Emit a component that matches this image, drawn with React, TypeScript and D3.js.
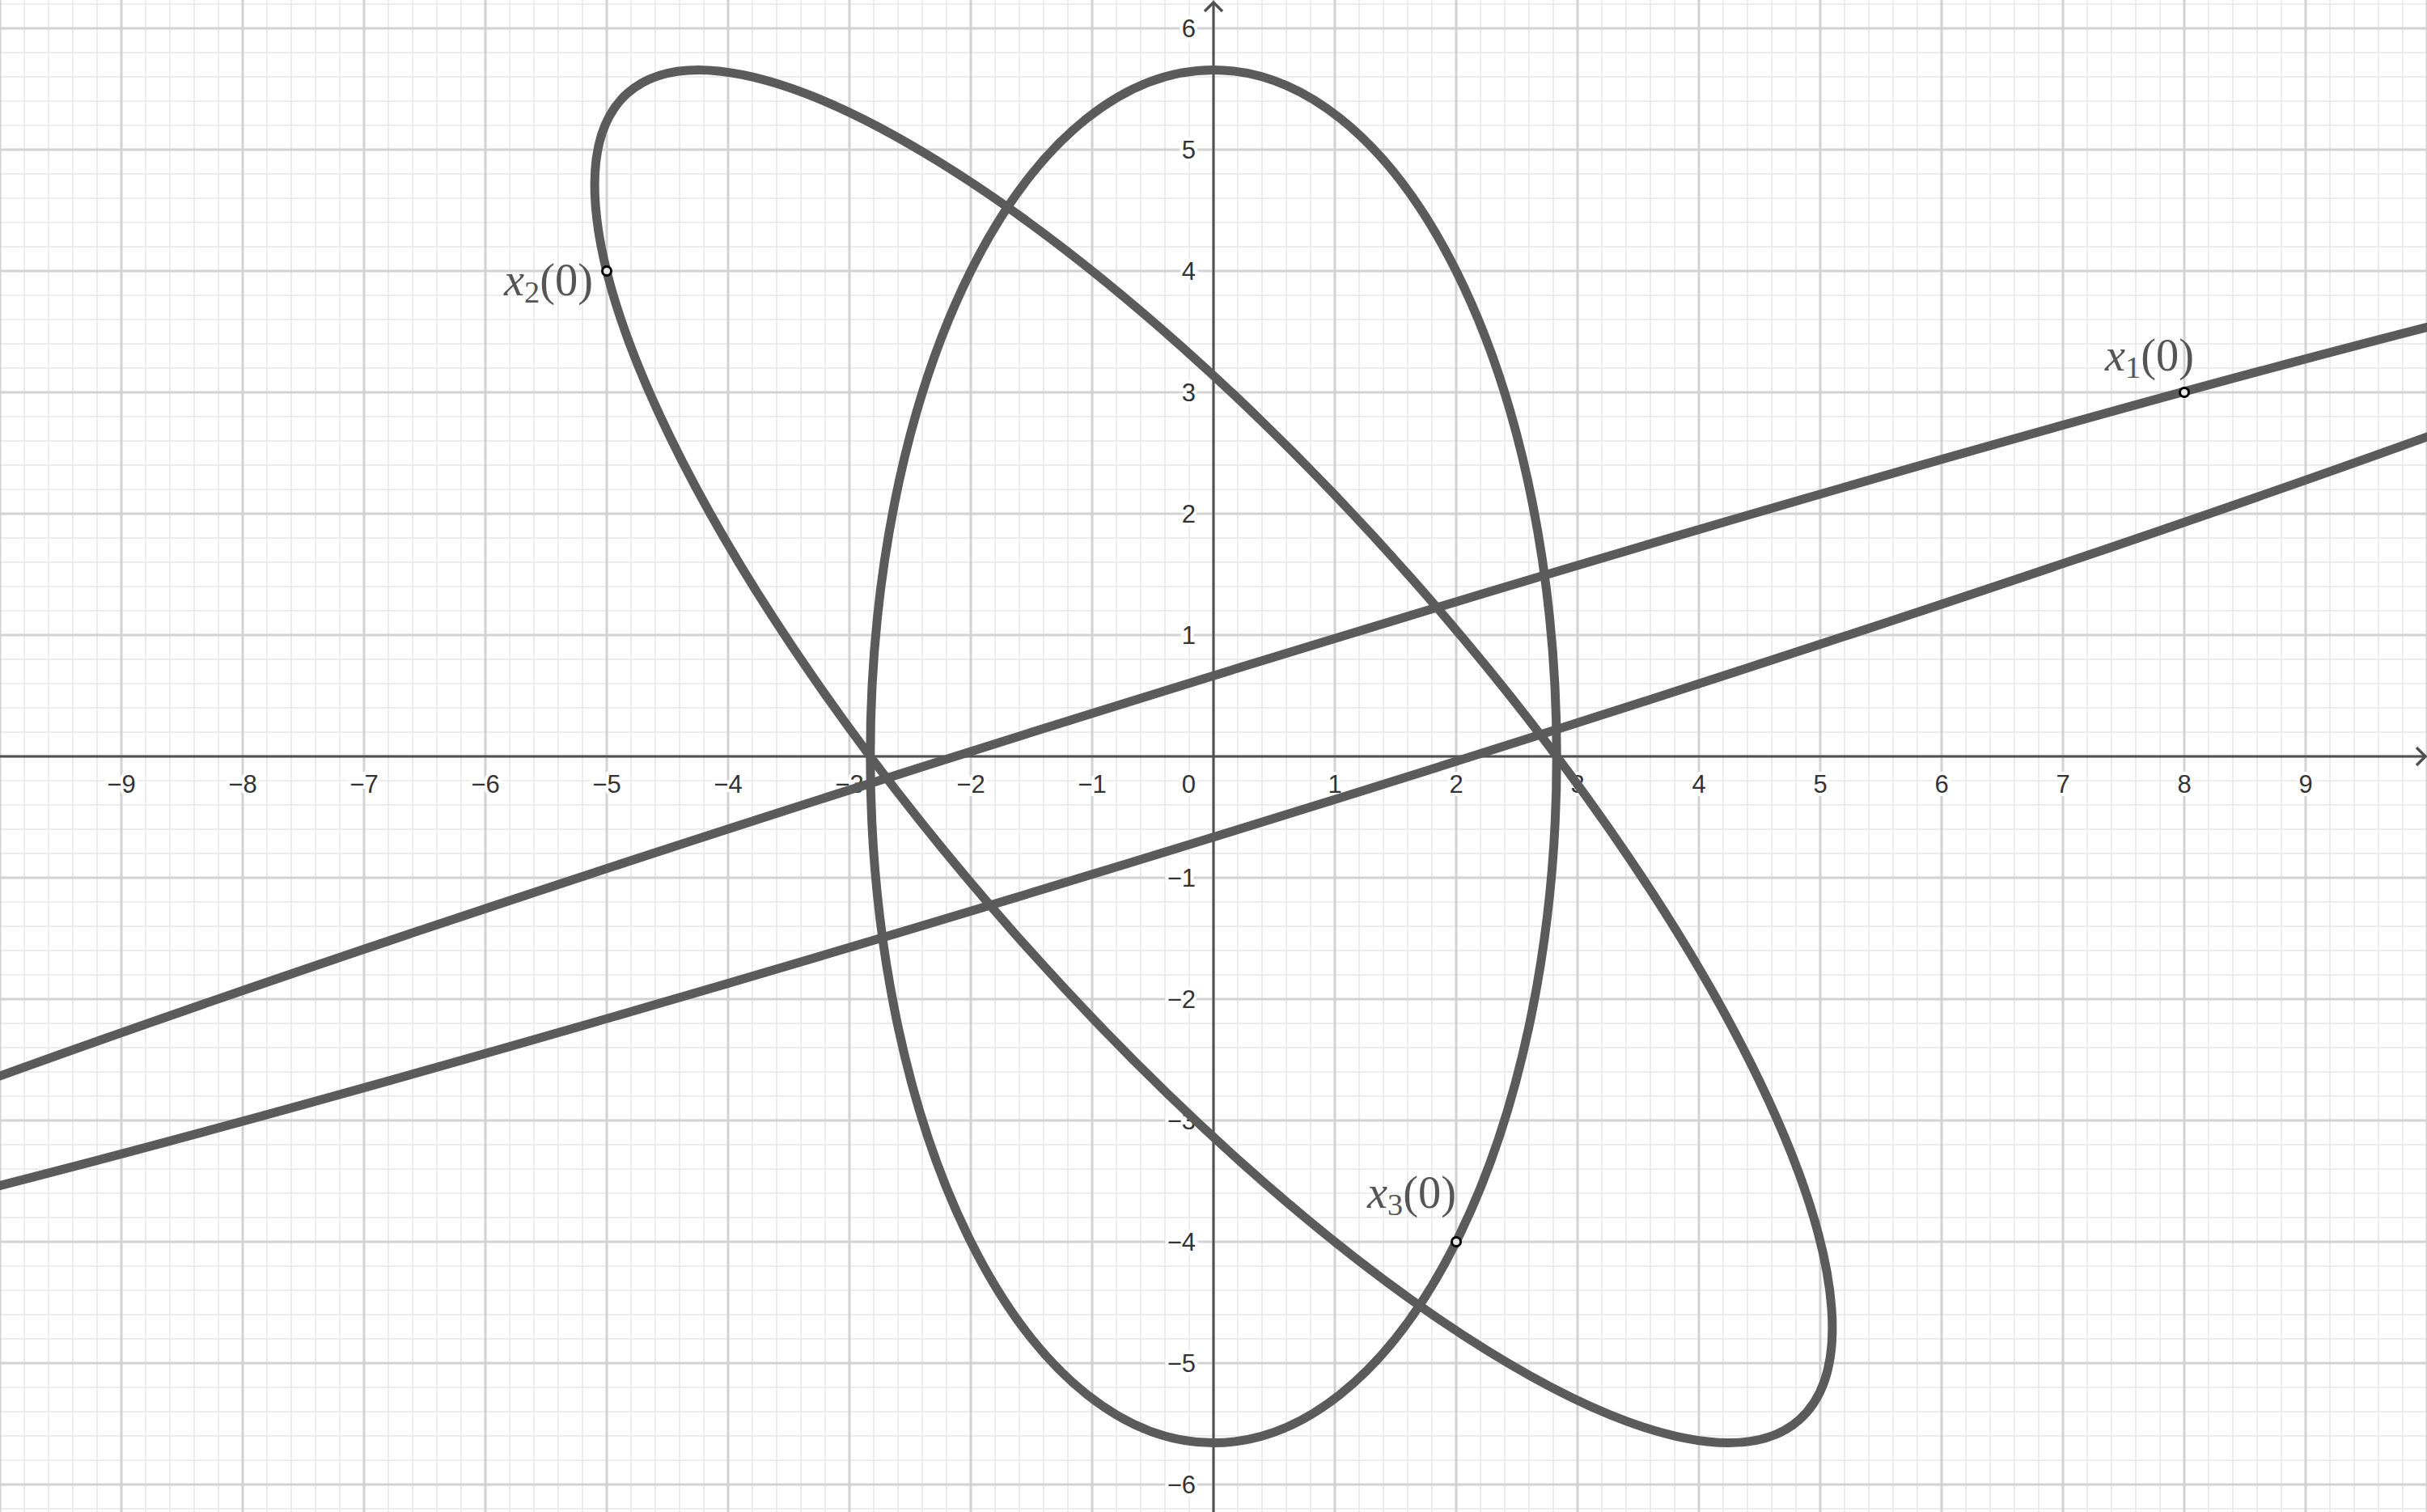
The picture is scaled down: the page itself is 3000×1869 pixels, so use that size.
import React from "react";
import * as d3 from "d3";

// ---- data ----
const xTickValues = [-9, -8, -7, -6, -5, -4, -3, -2, -1, 1, 2, 3, 4, 5, 6, 7, 8, 9];
const yTickValues = [-6, -5, -4, -3, -2, -1, 1, 2, 3, 4, 5, 6];

// three trajectories (conics centred at the origin)
const curveSemiMajor = [14.26, 7.293, 5.657];
const curveSemiMinor = [0.6354, 2.194, 2.828];
const curveAngleDeg = [17.18, -48.56, 90];

// initial points x_i(0)
const pointX = [8, -5, 2];
const pointY = [3, 4, -4];
const pointSub = ["1", "2", "3"];

const W = 3000;
const H = 1869;
const ORIGIN_X = 1500;
const ORIGIN_Y = 935;
const UNIT = 150;

const fmt = (v: number) => (v < 0 ? "\u2212" + Math.abs(v) : String(v));

export default function App() {
  const x = d3.scaleLinear().domain([-ORIGIN_X / UNIT, (W - ORIGIN_X) / UNIT]).range([0, W]);
  const y = d3.scaleLinear().domain([ORIGIN_Y / UNIT, (ORIGIN_Y - H) / UNIT]).range([0, H]);

  const minorX = x.ticks(100);
  const minorY = y.ticks(62);
  const majorX = x.ticks(20);
  const majorY = y.ticks(12);

  const ox = x(0);
  const oy = y(0);
  const curveColor = "#5b5b5b";
  const tickFont = "'Liberation Sans', Arial, sans-serif";
  const mathFont = "'Liberation Serif', 'DejaVu Serif', serif";

  // label placement relative to each point (pixel offsets)
  const labelDX = [-98, -127, -110];
  const labelDY = [-27, 30, -42];

  return (
    <svg
      width={W}
      height={H}
      style={{ position: "absolute", left: 0, top: 0, background: "#fff" }}
      xmlns="http://www.w3.org/2000/svg"
    >
      <rect x={0} y={0} width={W} height={H} fill="#ffffff" />
      {/* minor grid */}
      <g stroke="#ececec" strokeWidth={2}>
        {minorX.map((v) => (
          <line key={"mx" + v} x1={x(v)} x2={x(v)} y1={0} y2={H} />
        ))}
        {minorY.map((v) => (
          <line key={"my" + v} x1={0} x2={W} y1={y(v)} y2={y(v)} />
        ))}
      </g>
      {/* major grid */}
      <g stroke="#d2d2d2" strokeWidth={3}>
        {majorX.map((v) => (
          <line key={"Mx" + v} x1={x(v)} x2={x(v)} y1={0} y2={H} />
        ))}
        {majorY.map((v) => (
          <line key={"My" + v} x1={0} x2={W} y1={y(v)} y2={y(v)} />
        ))}
      </g>
      {/* axes */}
      <g stroke="#505050" strokeWidth={3} fill="none">
        <line x1={0} x2={W - 2} y1={oy} y2={oy} />
        <line x1={ox} x2={ox} y1={3} y2={H} />
        <polyline points={`${W - 13},${oy - 11} ${W - 2},${oy} ${W - 13},${oy + 11}`} strokeWidth={3.5} />
        <polyline points={`${ox - 11},${14} ${ox},${3} ${ox + 11},${14}`} strokeWidth={3.5} />
      </g>
      {/* tick labels */}
      <g
        fontFamily={tickFont}
        fontSize={31}
        fill="#333"
        stroke="#fff"
        strokeWidth={8}
        style={{ paintOrder: "stroke" }}
      >
        {xTickValues.map((v) => (
          <text key={"tx" + v} x={x(v)} y={oy + 45} textAnchor="middle">
            {fmt(v)}
          </text>
        ))}
        <text x={ox - 22} y={oy + 45} textAnchor="end">
          0
        </text>
        {yTickValues.map((v) => (
          <text key={"ty" + v} x={ox - 22} y={y(v) + 11} textAnchor="end">
            {fmt(v)}
          </text>
        ))}
      </g>
      {/* curves */}
      <g fill="none" stroke={curveColor} strokeWidth={11}>
        {curveSemiMajor.map((a, i) => (
          <ellipse
            key={"c" + i}
            cx={ox}
            cy={oy}
            rx={x(a) - ox}
            ry={oy - y(curveSemiMinor[i])}
            transform={`rotate(${-curveAngleDeg[i]} ${ox} ${oy})`}
          />
        ))}
      </g>
      {/* initial points */}
      {pointX.map((px, i) => (
        <circle key={"p" + i} cx={x(px)} cy={y(pointY[i])} r={5.5} fill="#e8e8e8" stroke="#000" strokeWidth={3} />
      ))}
      {/* point labels */}
      {pointX.map((px, i) => (
        <text
          key={"l" + i}
          x={x(px) + labelDX[i]}
          y={y(pointY[i]) + labelDY[i]}
          fontFamily={mathFont}
          fontSize={56}
          fill="#555"
          textLength={110}
          lengthAdjust="spacingAndGlyphs"
        >
          <tspan fontStyle="italic">x</tspan>
          <tspan fontSize={38} dy={9}>
            {pointSub[i]}
          </tspan>
          <tspan dy={-9}>(0)</tspan>
        </text>
      ))}
    </svg>
  );
}
